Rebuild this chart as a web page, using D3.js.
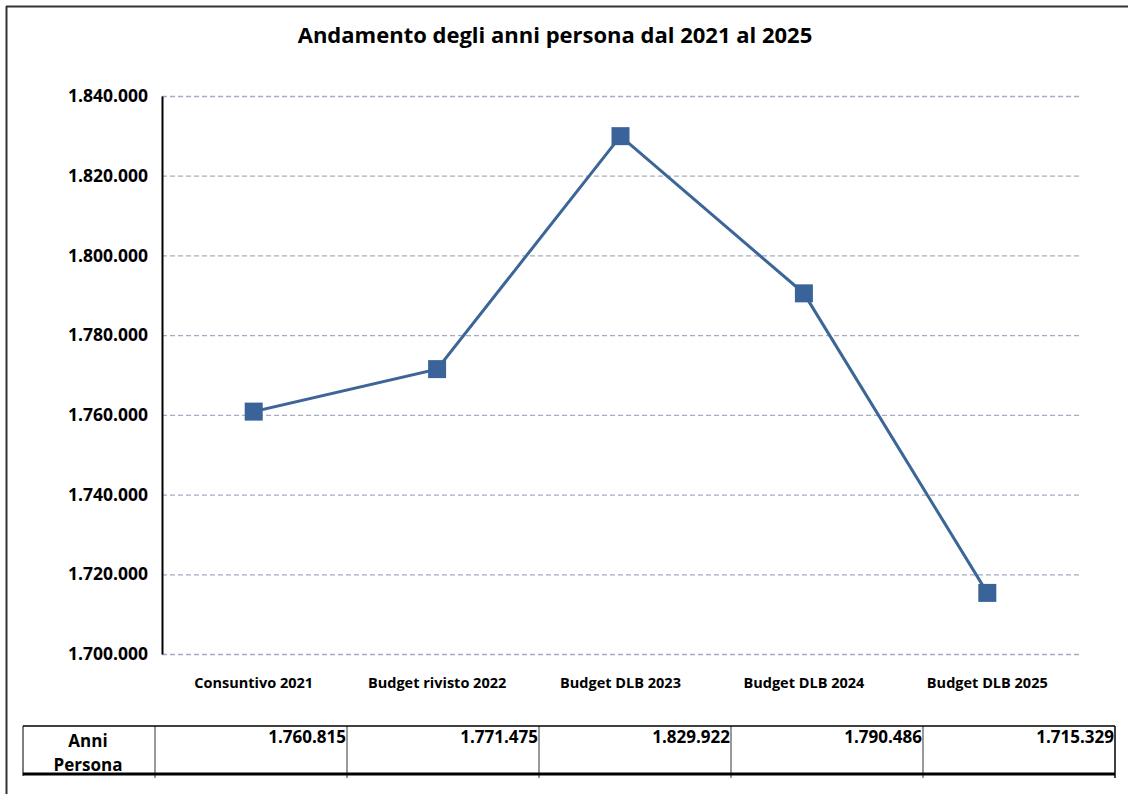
<!DOCTYPE html>
<html>
<head>
<meta charset="utf-8">
<script src="https://cdn.jsdelivr.net/npm/d3@7"></script>
<style>
  body { margin: 0; background: #fff; }
  text { font-family: "Open Sans", Lato, sans-serif; font-weight: bold; fill: #000; }
</style>
</head>
<body>
<script>
const categories = ["Consuntivo 2021", "Budget rivisto 2022", "Budget DLB 2023", "Budget DLB 2024", "Budget DLB 2025"];
const values = [1760815, 1771475, 1829922, 1790486, 1715329];
const yTicks = [1700000, 1720000, 1740000, 1760000, 1780000, 1800000, 1820000, 1840000];
const rowLabel = ["Anni", "Persona"];

const width = 1128, height = 794;
const svg = d3.select("body").append("svg")
  .attr("width", width).attr("height", height);

// outer frame (top + left only visible)
svg.append("line").attr("x1", 6).attr("x2", width).attr("y1", 6.5).attr("y2", 6.5)
  .attr("stroke", "#333").attr("stroke-width", 2);
svg.append("line").attr("x1", 6.5).attr("x2", 6.5).attr("y1", 6).attr("y2", height)
  .attr("stroke", "#333").attr("stroke-width", 2);

svg.append("text").attr("x", 555).attr("y", 43).attr("text-anchor", "middle")
  .style("font-size", "22px").text("Andamento degli anni persona dal 2021 al 2025");

const margin = {left: 162, right: 1079, top: 96, bottom: 654};

const x = d3.scaleBand().domain(categories).range([margin.left, margin.right]);
const y = d3.scaleLinear().domain([1700000, 1840000]).range([margin.bottom, margin.top]);

const fmt = d3.formatLocale({decimal: ",", thousands: ".", grouping: [3], currency: ["", ""]}).format(",d");

// gridlines
svg.append("g").selectAll("line").data(yTicks).join("line")
  .attr("x1", margin.left).attr("x2", margin.right)
  .attr("y1", d => y(d) + 0.5).attr("y2", d => y(d) + 0.5)
  .attr("stroke", "#a9a9c4").attr("stroke-width", 1.3).attr("stroke-dasharray", "5,3");

// y axis
const yAxis = svg.append("g").attr("transform", `translate(${margin.left},0)`)
  .call(d3.axisLeft(y).tickValues(yTicks).tickFormat(fmt).tickSize(0).tickPadding(14));
yAxis.select(".domain").attr("stroke", "#000").attr("stroke-width", 2);
yAxis.selectAll("text").style("font-size", "17.5px").attr("dy", "0.32em");

// x labels
const xAxis = svg.append("g").attr("transform", `translate(0,${margin.bottom})`)
  .call(d3.axisBottom(x).tickSize(0).tickPadding(24));
xAxis.select(".domain").remove();
xAxis.selectAll("text").style("font-size", "14.5px");

// line
const line = d3.line().x((d, i) => x(categories[i]) + x.bandwidth() / 2).y(d => y(d));
svg.append("path").datum(values).attr("d", line)
  .attr("fill", "none").attr("stroke", "#3c6598").attr("stroke-width", 3);

const ms = 18;
svg.append("g").selectAll("rect").data(values).join("rect")
  .attr("x", (d, i) => x(categories[i]) + x.bandwidth() / 2 - ms / 2)
  .attr("y", d => y(d) - ms / 2)
  .attr("width", ms).attr("height", ms)
  .attr("fill", "#3a6399");

// data table
const tTop = 726, tBot = 774;
const colX = d3.scaleBand().domain(categories).range([155, 1115]);
const t = svg.append("g");
t.append("line").attr("x1", 23).attr("x2", 1115).attr("y1", tTop).attr("y2", tTop)
  .attr("stroke", "#000").attr("stroke-width", 1.5);
t.append("line").attr("x1", 23).attr("x2", 1115).attr("y1", tBot).attr("y2", tBot)
  .attr("stroke", "#000").attr("stroke-width", 3);
t.append("line").attr("x1", 23).attr("x2", 23).attr("y1", tTop).attr("y2", tBot + 2)
  .attr("stroke", "#000").attr("stroke-width", 1);
const dividers = [155].concat(categories.map(c => colX(c) + colX.bandwidth()));
t.selectAll(".div").data(dividers).join("line")
  .attr("x1", d => d).attr("x2", d => d).attr("y1", tTop).attr("y2", tBot + 4)
  .attr("stroke", "#000").attr("stroke-width", (d, i) => i === dividers.length - 1 ? 1.5 : 0.8);
t.selectAll(".val").data(values).join("text")
  .attr("x", (d, i) => colX(categories[i]) + colX.bandwidth() - 1)
  .attr("y", 743).attr("text-anchor", "end")
  .style("font-size", "17px").text(d => fmt(d));
t.selectAll(".lab").data(rowLabel).join("text")
  .attr("x", 88).attr("y", (d, i) => 747 + i * 24).attr("text-anchor", "middle")
  .style("font-size", "17px").text(d => d);
</script>
</body>
</html>
